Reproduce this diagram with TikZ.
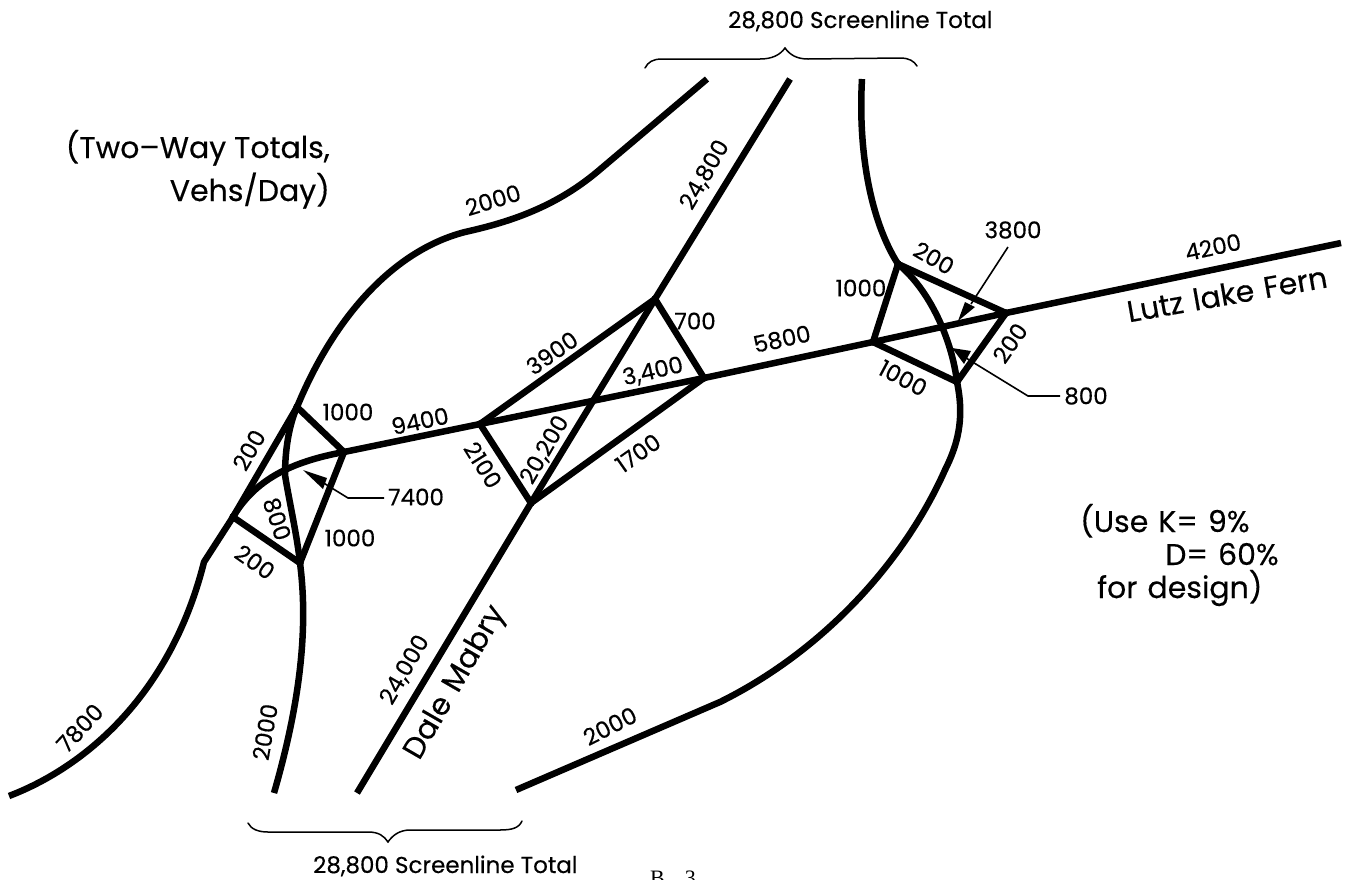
\documentclass[tikz,border=0pt]{standalone}
\usepackage{fontspec}
\setmainfont{Poppins}[RawFeature={embolden=0.4}]
\newfontfamily\typefont{Liberation Serif}
\tikzset{
 road/.style={line width=6.5pt,line join=round,line cap=butt,black},
 dot/.style={fill=black,draw=none},
 leader/.style={line width=1.6pt,black,line join=miter},
 brace/.style={line width=1.5pt,black,line cap=round},
 wedge/.style={fill=black,draw=none},
 lab/.style={font=\fontsize{23}{23}\selectfont,inner sep=0pt,text=black},
 big/.style={font=\fontsize{30}{31}\selectfont,inner sep=0pt,text=black},
 small/.style={font=\fontsize{23}{23}\selectfont,inner sep=0pt,text=black},
}
\newcommand{\wsp}{\hspace{10pt}}
\begin{document}
\begin{tikzpicture}[x=1pt,y=-1pt]
\useasboundingbox (0,0) rectangle (1353,879);
\clip (0,0) rectangle (1353,879);
% junctions
\coordinate (A) at (297,407);
\coordinate (B) at (344,452);
\coordinate (C) at (233,517);
\coordinate (D) at (300,563);
\coordinate (M) at (285,475);
\coordinate (P) at (480,424);
\coordinate (Q) at (655,299);
\coordinate (R) at (704,378);
\coordinate (S) at (531,503);
\coordinate (E) at (898,264);
\coordinate (F) at (1006,313);
\coordinate (G) at (873,342);
\coordinate (H) at (957,382);
% road ends
\coordinate (west) at (9,796);
\coordinate (south1) at (274,793);
\coordinate (south2) at (357,793);
\coordinate (south3) at (516,790);
\coordinate (north1) at (707,79);
\coordinate (north2) at (790,79);
\coordinate (north3) at (862,79);
\coordinate (east) at (1341,243);
% main roads
\draw[road] (B) -- (P) -- (R) -- (G) -- (F) -- (east);
\draw[road] (south2) -- (S) -- (Q) -- (north2);
\draw[road] (west) .. controls (90,765) and (172,690) .. (204,562) -- (C);
\draw[road] (C) .. controls (255,480) and (290,462) .. (B);
\draw[road] (A) .. controls (335,315) and (395,250) .. (465,232)
  .. controls (510,222) and (555,207) .. (597,172) -- (north1);
\draw[road] (D) .. controls (310,640) and (295,720) .. (south1);
\draw[road] (A) -- (C);
\draw[road] (A) -- (B);
\draw[road] (B) -- (D);
\draw[road] (C) -- (D);
\draw[road] (A) .. controls (289,425) and (285,450) .. (M) .. controls (289,500) and (297,535) .. (D);
% middle interchange
\draw[road] (P) -- (Q);
\draw[road] (Q) -- (R);
\draw[road] (R) -- (S);
\draw[road] (S) -- (P);
% right interchange
\draw[road] (north3) .. controls (858,150) and (870,220) .. (E);
\draw[road] (E) .. controls (930,290) and (952,340) .. (H);
\draw[road] (H) .. controls (965,420) and (957,446) .. (945,470)
  .. controls (905,560) and (825,650) .. (720,702) -- (south3);
\draw[road] (E) -- (F);
\draw[road] (F) -- (H);
\draw[road] (H) -- (G);
\draw[road] (G) -- (E);
\foreach \j in {A,B,C,D,P,Q,R,S,E,F,G,H} \fill[dot] (\j) circle (3.8);
% leaders
\coordinate (t1) at (303,470);
\coordinate (j1) at (348,498);
\coordinate (e1) at (384,498);
\draw[leader] (322,482) -- (j1) -- (e1);
\fill[wedge] (t1) -- (327,478) -- (323,489) -- cycle;
\coordinate (t2) at (958,321);
\coordinate (e2) at (1008,247);
\draw[leader] (971,304) -- (e2);
\fill[wedge] (t2) -- (965,302) -- (975,307) -- cycle;
\coordinate (t3) at (952,348);
\coordinate (j3) at (1028,396);
\coordinate (e3) at (1060,396);
\draw[leader] (966,358) -- (j3) -- (e3);
\fill[wedge] (t3) -- (971,351) -- (964,364) -- cycle;
% labels
\node[lab,rotate=47] (l7800) at (80,728) {7800};
\node[lab,rotate=80] (l2000a) at (265,732) {2000};
\node[lab,rotate=60] (l24000) at (405,670) {24,000};
\node[big,rotate=60] (ldale) at (456,683) {Dale\wsp Mabry};
\node[lab,rotate=27] (l2000b) at (610,726) {2000};
\node[lab,rotate=60] (l200a) at (249,450) {200};
\node[lab] (l1000a) at (348,412) {1000};
\node[lab,rotate=12] (l9400) at (420,421) {9400};
\node[lab,rotate=-72] (l800a) at (277,519) {800};
\node[lab,rotate=-35] (l200b) at (255,562) {200};
\node[lab] (l1000b) at (350,538) {1000};
\node[lab] (l7400) at (416,497) {7400};
\node[lab,rotate=-58] (l2100) at (483,465) {2100};
\node[lab,rotate=60] (l20200) at (545,450) {20,200};
\node[lab,rotate=35] (l3900) at (552,353) {3900};
\node[lab,rotate=13] (l3400) at (653,372) {3,400};
\node[lab] (l700) at (695,321) {700};
\node[lab,rotate=35] (l1700) at (638,453) {1700};
\node[lab,rotate=60] (l24800) at (705,175) {24,800};
\node[lab,rotate=17] (l2000c) at (493,200) {2000};
\node[lab,rotate=12] (l5800) at (782,339) {5800};
\node[lab] (l1000c) at (861,288) {1000};
\node[lab,rotate=-30] (l200c) at (934,258) {200};
\node[lab] (l3800) at (1013,230) {3800};
\node[lab,rotate=-28] (l1000d) at (903,378) {1000};
\node[lab,rotate=55] (l200d) at (1010,343) {200};
\node[lab] (l800b) at (1086,396) {800};
\node[lab,rotate=12] (l4200) at (1213,247) {4200};
\node[big,rotate=10] (llutz) at (1227,294) {Lutz\wsp lake\wsp Fern};
\node[big,anchor=base east] (ltwo) at (330,158) {(Two--Way Totals,};
\node[big,anchor=base east] (lveh) at (330,201) {Vehs/Day)};
\node[big,anchor=base west] (luse) at (1080,532) {(Use\wsp K=\wsp 9\%};
\node[big,anchor=base west] (ld) at (1165,565) {D=\wsp 60\%};
\node[big,anchor=base west] (lfor) at (1097,598) {for\wsp design)};
\node[small,anchor=base west] (ltop) at (728,28) {28,800 Screenline Total};
\node[small,anchor=base west] (lbot) at (313,873) {28,800 Screenline Total};
\node[inner sep=0pt,anchor=base west,font=\typefont\fontsize{22}{22}\selectfont] (lpage) at (650,885) {B\hspace{20pt}3};
% braces
\draw[brace] (645,68) .. controls (648,62) and (653,59) .. (662,59) -- (760,59)
  .. controls (772,59) and (780,55) .. (785,48)
  .. controls (790,55) and (797,59) .. (808,59) -- (900,58) .. controls (909,58) and (914,61) .. (917,66);
\draw[brace] (248,823) .. controls (251,829) and (258,832) .. (268,832) -- (368,832)
  .. controls (379,832) and (384,836) .. (388,842)
  .. controls (392,836) and (399,830) .. (410,830) -- (500,830) .. controls (512,830) and (519,828) .. (522,821);
\end{tikzpicture}
\end{document}
